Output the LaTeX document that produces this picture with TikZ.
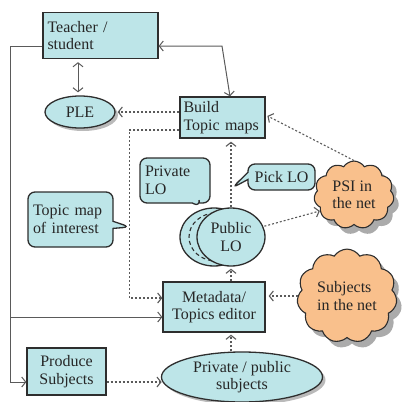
\documentclass[tikz,border=0pt]{standalone}
\usepackage{fontspec}
\setmainfont{Liberation Serif}
\usetikzlibrary{shapes.geometric,shapes.callouts,shapes.symbols,shadows,arrows.meta,calc}
\definecolor{boxfill}{HTML}{BDE5E8}
\definecolor{cloudfill}{HTML}{F9C08C}
\definecolor{linegray}{HTML}{5A5A5A}
\definecolor{edgedark}{HTML}{2E2E2E}
\begin{document}
\begin{tikzpicture}[x=1pt,y=-1pt,
  every node/.style={font=\fontsize{16}{17.5}\selectfont, text=black!85},
  boxnode/.style={draw=edgedark, fill=boxfill, line width=1.3pt, inner sep=3pt, align=center},
  ellnode/.style={ellipse, draw=edgedark, fill=boxfill, line width=1.3pt, inner sep=1pt, align=center},
  shadowed/.style={drop shadow={shadow xshift=3pt, shadow yshift=-3pt, fill=black!45, opacity=0.6}},
  callbox/.style={rectangle callout, rounded corners=7pt, draw=edgedark, fill=boxfill, line width=1.3pt, inner sep=3pt, align=left},
  cloudnode/.style={cloud, cloud puffs=11, cloud puff arc=115, draw=edgedark, fill=cloudfill, line width=1.1pt, align=left, inner sep=0pt,
     drop shadow={shadow xshift=5pt, shadow yshift=-6pt, fill=black!55, opacity=0.6}},
  solidarrow/.style={draw=linegray, line width=1pt, arrows={-Straight Barb[length=4pt,width=10pt]}},
  dotarrow/.style={draw=linegray, line width=1.1pt, dash pattern=on 2pt off 2pt, arrows={-Straight Barb[length=4pt,width=10pt]}},
  dotline/.style={draw=linegray, line width=1.1pt, dash pattern=on 2pt off 2pt}
]
\useasboundingbox (0,0) rectangle (405,402);

% nodes
\node[boxnode, minimum width=115pt, minimum height=46pt, text width=106pt, align=left] (teacher) at (100.5,35.5) {Teacher /\\student};
\node[ellnode, shadowed, minimum width=70pt, minimum height=32pt] (ple) at (80,112) {PLE};
\node[boxnode, minimum width=85pt, minimum height=41pt, text width=78pt, align=left, inner sep=2pt] (build) at (222.5,117.5) {Build\\Topic maps};
\node[boxnode, minimum width=102pt, minimum height=50pt] (meta) at (214,307) {Metadata/\\Topics editor};
\node[boxnode, minimum width=79pt, minimum height=47pt] (produce) at (66.5,371.5) {Produce\\Subjects};
\node[ellnode, shadowed, minimum width=161pt, minimum height=50pt] (subj) at (242,377) {Private / public\\subjects};

\node[callbox, minimum width=85pt, minimum height=55pt, text width=75pt, callout absolute pointer={(130,227)}] (tmi) at (70.5,219.5) {Topic map\\of interest};
\node[callbox, minimum width=70pt, minimum height=45pt, text width=60pt, callout absolute pointer={(200,207)}] (priv) at (175,180.5) {Private\\LO};
\node[callbox, minimum width=67pt, minimum height=26pt, align=center, callout absolute pointer={(232,188)}] (pick) at (281.5,177) {Pick LO};

\node[ellnode, minimum width=68pt, minimum height=58pt] (privlo) at (214,237) {};
\draw[edgedark, line width=1.1pt, dash pattern=on 4pt off 3pt] (216,237) ellipse [x radius=27pt, y radius=24pt];
\node[ellnode, minimum width=68pt, minimum height=58pt] (publo) at (231,237) {Public\\LO};

\node[cloudnode, minimum width=80pt, minimum height=56pt] (psi) at (354,195) {PSI in\\the net};
\node[cloudnode, minimum width=100pt, minimum height=64pt] (subjnet) at (347,296) {Subjects\\in the net};

% solid connectors
\draw[solidarrow, arrows={Straight Barb[length=4pt,width=10pt]-Straight Barb[length=4pt,width=10pt]}]
  ([xshift=7.5pt]build.north) -- (222,46) -- ([yshift=-10.5pt]teacher.east);
\draw[solidarrow, arrows={Straight Barb[length=4pt,width=10pt]-Straight Barb[length=4pt,width=10pt]}, shorten >=3pt, shorten <=3pt]
  ([xshift=-2pt]ple.north) -- ([xshift=-2pt]ple.north |- teacher.south);
\coordinate (lcorner) at (10,382);
\draw[solidarrow] ([yshift=-10.5pt]teacher.west) -| (lcorner) -- ([yshift=-10.5pt]produce.west);
\draw[solidarrow] (10,317) -- (10,317 -| meta.west);

% dotted connectors
\draw[dotarrow, shorten >=2pt] (build.west |- ple.east) -- (ple.east);
\draw[dotarrow] ([yshift=-12.5pt]build.west) -- ++(-50,0) |- ([yshift=9pt]meta.west);
\draw[dotarrow, shorten >=3pt] (publo.north) -- (publo.north |- build.south);
\draw[dotarrow, shorten >=2pt] (publo.south |- meta.north) -- (publo.south);
\draw[dotarrow, shorten >=2pt] (publo.south |- subj.north) -- (publo.south |- meta.south);
\draw[dotarrow, shorten >=1pt] ([yshift=-10.5pt]produce.east) -- ++(56,0);
\draw[dotarrow, shorten <=1pt] (publo.18) -- (psi.205);
\draw[dotarrow, shorten >=2pt] (psi.north) -- ([yshift=2.5pt]build.east);
\draw[dotarrow, shorten >=3pt] (subjnet.west) -- (subjnet.west -| meta.east);
\end{tikzpicture}
\end{document}
